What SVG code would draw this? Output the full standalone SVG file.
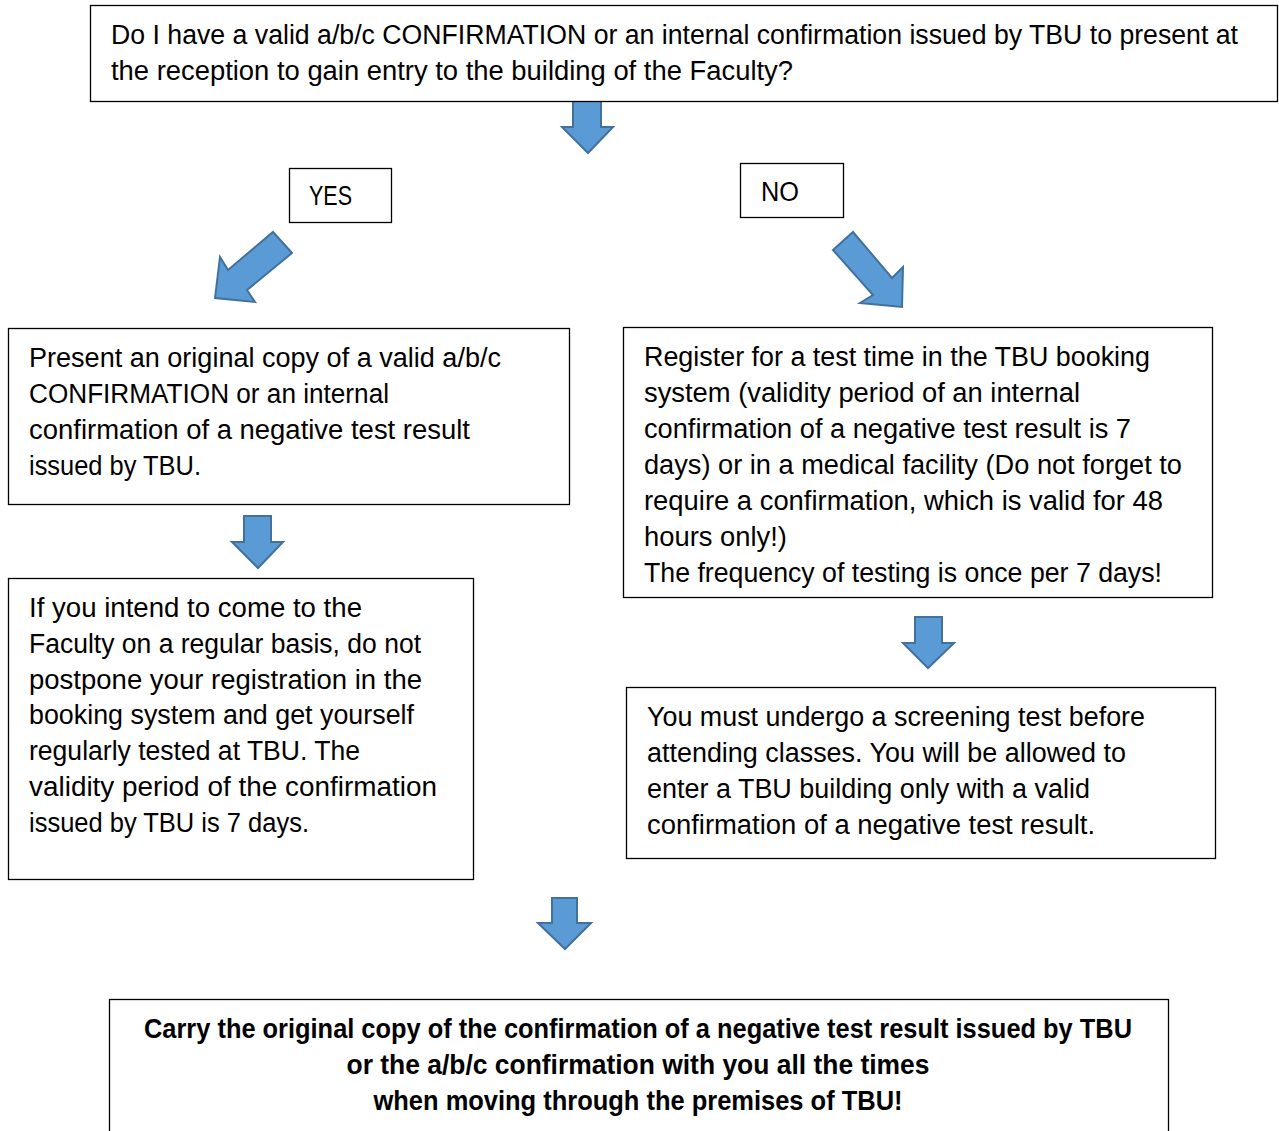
<svg xmlns="http://www.w3.org/2000/svg" width="1279" height="1131" viewBox="0 0 1279 1131">
<style>
.box{fill:#fff;stroke:#000;stroke-width:1.3}
.t{font-family:"Liberation Sans",Arial,sans-serif;font-size:27px;fill:#000}
.b{font-family:"Liberation Sans",Arial,sans-serif;font-size:27px;font-weight:bold;fill:#000;text-anchor:middle}
.arr{fill:#5B9BD5;stroke:#41719C;stroke-width:2;stroke-linejoin:miter}
</style>
<rect width="1279" height="1131" fill="#fff"/>
<g id="connectors">
<polygon class="arr" points="573,100 601,100 601,127 613,127 588,153 562,127 573,127"/>
<polygon class="arr" points="273,232 292,253 247,290 255,302 215,298 220,257 228,270"/>
<polygon class="arr" points="833,250 853,232 892,278 903,267 902,307 860,303 873,295"/>
<polygon class="arr" points="244,516 271,516 271,542 283,542 258,568 232,542 244,542"/>
<polygon class="arr" points="915,617 942,617 942,643 954,643 928,668 903,643 915,643"/>
<polygon class="arr" points="552,898 577,898 577,923 591,923 565,949 538,923 552,923"/>
</g>
<g id="question">
<rect class="box" x="90.5" y="5.5" width="1187" height="96"/>
<text class="t" x="111" y="44" textLength="1127" lengthAdjust="spacingAndGlyphs">Do I have a valid a/b/c CONFIRMATION or an internal confirmation issued by TBU to present at</text>
<text class="t" x="111" y="80" textLength="682" lengthAdjust="spacingAndGlyphs">the reception to gain entry to the building of the Faculty?</text>
</g>
<g id="yes">
<rect class="box" x="289.5" y="168.5" width="102" height="54"/>
<text class="t" x="309" y="205" textLength="43" lengthAdjust="spacingAndGlyphs">YES</text>
</g>
<g id="no">
<rect class="box" x="740.5" y="163.5" width="103" height="54"/>
<text class="t" x="761" y="201" textLength="38" lengthAdjust="spacingAndGlyphs">NO</text>
</g>
<g id="present">
<rect class="box" x="8.5" y="328.5" width="561" height="176"/>
<text class="t" x="29" y="367" textLength="472" lengthAdjust="spacingAndGlyphs">Present an original copy of a valid a/b/c</text>
<text class="t" x="29" y="403" textLength="360" lengthAdjust="spacingAndGlyphs">CONFIRMATION or an internal</text>
<text class="t" x="29" y="439" textLength="441" lengthAdjust="spacingAndGlyphs">confirmation of a negative test result</text>
<text class="t" x="29" y="475" textLength="172" lengthAdjust="spacingAndGlyphs">issued by TBU.</text>
</g>
<g id="regular">
<rect class="box" x="8.5" y="578.5" width="465" height="301"/>
<text class="t" x="29" y="617" textLength="333" lengthAdjust="spacingAndGlyphs">If you intend to come to the</text>
<text class="t" x="29" y="653" textLength="392" lengthAdjust="spacingAndGlyphs">Faculty on a regular basis, do not</text>
<text class="t" x="29" y="689" textLength="393" lengthAdjust="spacingAndGlyphs">postpone your registration in the</text>
<text class="t" x="29" y="724" textLength="385" lengthAdjust="spacingAndGlyphs">booking system and get yourself</text>
<text class="t" x="29" y="760" textLength="331" lengthAdjust="spacingAndGlyphs">regularly tested at TBU. The</text>
<text class="t" x="29" y="796" textLength="408" lengthAdjust="spacingAndGlyphs">validity period of the confirmation</text>
<text class="t" x="29" y="832" textLength="280" lengthAdjust="spacingAndGlyphs">issued by TBU is 7 days.</text>
</g>
<g id="register">
<rect class="box" x="623.5" y="327.5" width="589" height="270"/>
<text class="t" x="644" y="366" textLength="506" lengthAdjust="spacingAndGlyphs">Register for a test time in the TBU booking</text>
<text class="t" x="644" y="402" textLength="436" lengthAdjust="spacingAndGlyphs">system (validity period of an internal</text>
<text class="t" x="644" y="438" textLength="487" lengthAdjust="spacingAndGlyphs">confirmation of a negative test result is 7</text>
<text class="t" x="644" y="474" textLength="538" lengthAdjust="spacingAndGlyphs">days) or in a medical facility (Do not forget to</text>
<text class="t" x="644" y="510" textLength="519" lengthAdjust="spacingAndGlyphs">require a confirmation, which is valid for 48</text>
<text class="t" x="644" y="546" textLength="143" lengthAdjust="spacingAndGlyphs">hours only!)</text>
<text class="t" x="644" y="582" textLength="518" lengthAdjust="spacingAndGlyphs">The frequency of testing is once per 7 days!</text>
</g>
<g id="screening">
<rect class="box" x="626.5" y="687.5" width="589" height="171"/>
<text class="t" x="647" y="726" textLength="498" lengthAdjust="spacingAndGlyphs">You must undergo a screening test before</text>
<text class="t" x="647" y="762" textLength="479" lengthAdjust="spacingAndGlyphs">attending classes. You will be allowed to</text>
<text class="t" x="647" y="798" textLength="443" lengthAdjust="spacingAndGlyphs">enter a TBU building only with a valid</text>
<text class="t" x="647" y="834" textLength="448" lengthAdjust="spacingAndGlyphs">confirmation of a negative test result.</text>
</g>
<g id="carry">
<rect class="box" x="109.5" y="999.5" width="1059" height="150"/>
<text class="b" x="638" y="1038" textLength="988" lengthAdjust="spacingAndGlyphs">Carry the original copy of the confirmation of a negative test result issued by TBU</text>
<text class="b" x="638" y="1074" textLength="583" lengthAdjust="spacingAndGlyphs">or the a/b/c confirmation with you all the times</text>
<text class="b" x="638" y="1110" textLength="529" lengthAdjust="spacingAndGlyphs">when moving through the premises of TBU!</text>
</g>
</svg>
